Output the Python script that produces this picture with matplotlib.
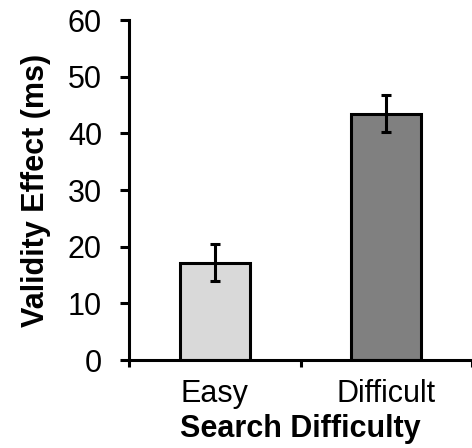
import matplotlib
matplotlib.use("Agg")
import matplotlib.pyplot as plt

categories = ["Easy", "Difficult"]
values = [17.2, 43.5]
errors = [3.3, 3.2]
colors = ["#d9d9d9", "#808080"]
yticks = [0, 10, 20, 30, 40, 50, 60]

plt.rcParams['font.family'] = ['Liberation Sans', 'DejaVu Sans']

fig = plt.figure(figsize=(4.72, 4.48), dpi=100)
ax = fig.add_axes([129/472, 88/448, (472-129)/472, (360-20)/448])

x = list(range(len(categories)))
ax.bar(x, values, width=0.41, color=colors, edgecolor="black", linewidth=2.2, zorder=2)
ax.errorbar(x, values, yerr=errors, fmt="none", ecolor="black", elinewidth=2.2,
            capsize=3.5, capthick=2.2, zorder=3)

fs = 22
ax.set_xlim(-0.5, 1.5)
ax.set_ylim(0, 60)
ax.set_yticks(yticks)
ax.set_yticklabels([str(t) for t in yticks], fontsize=fs)
ax.set_xticks(x)
ax.set_xticklabels(categories, fontsize=fs)
ax.set_xticks([-0.5, 0.5, 1.5], minor=True)
ax.tick_params(axis="x", which="major", length=0, pad=14)
ax.tick_params(axis="x", which="minor", length=5, width=2.2, direction="out")
ax.tick_params(axis="y", length=6.5, width=2.2, direction="out", pad=13)

for s in ["top", "right"]:
    ax.spines[s].set_visible(False)
for s in ["left", "bottom"]:
    ax.spines[s].set_linewidth(2.2)

ax.set_ylabel("Validity Effect (ms)", fontsize=fs, fontweight="bold", labelpad=12)
ax.set_xlabel("Search Difficulty", fontsize=fs, fontweight="bold", labelpad=3)

fig.savefig("out.png", dpi=100)
